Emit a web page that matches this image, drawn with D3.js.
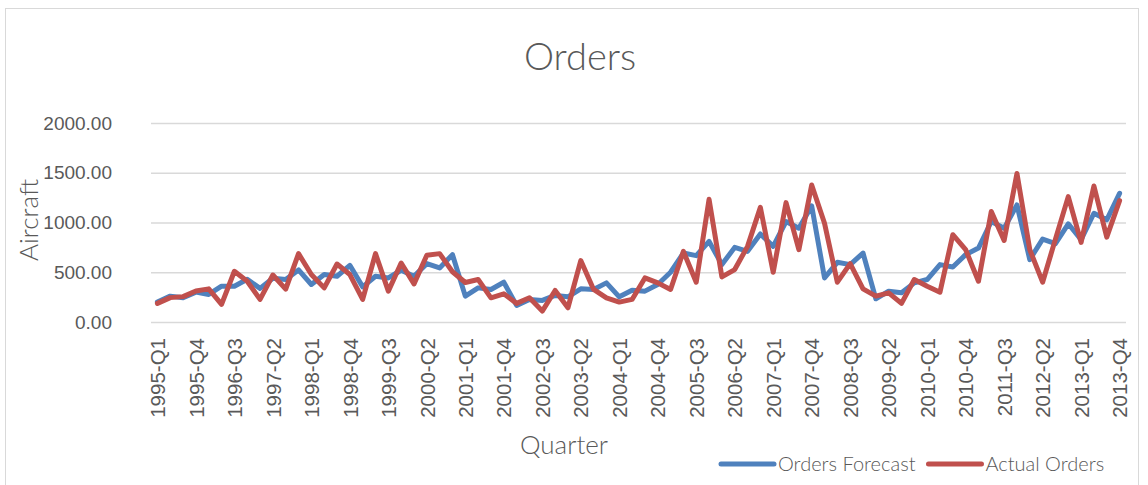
<!DOCTYPE html>
<html>
<head>
<meta charset="utf-8">
<script src="https://cdn.jsdelivr.net/npm/d3@7"></script>
<style>
  body { margin: 0; background: #fff; }
  svg { display: block; font-family: Lato, "Noto Sans", sans-serif; }
</style>
</head>
<body>
<div id="chart"></div>
<script>
// quarters 1995-Q1 .. 2013-Q4
const years = [1995, 1996, 1997, 1998, 1999, 2000, 2001, 2002, 2003, 2004,
               2005, 2006, 2007, 2008, 2009, 2010, 2011, 2012, 2013];
const quarterNames = ["Q1", "Q2", "Q3", "Q4"];
const quarters = years.flatMap(y => quarterNames.map(q => `${y}-${q}`));

const ordersForecast = [
  200, 260, 243, 300, 277, 360, 360, 430, 338, 440,
  427, 523, 377, 477, 460, 570, 353, 460, 443, 520,
  460, 587, 543, 677, 260, 343, 327, 400, 167, 227,
  217, 267, 253, 333, 327, 393, 253, 320, 310, 377,
  500, 693, 667, 810, 577, 750, 710, 885, 760, 1010,
  943, 1167, 443, 600, 577, 693, 233, 310, 293, 393,
  427, 577, 553, 677, 743, 1010, 943, 1177, 627, 833,
  787, 987, 827, 1093, 1027, 1293
];
const actualOrders = [
  187, 245, 255, 312, 333, 177, 510, 410, 227, 472,
  330, 687, 477, 343, 583, 477, 227, 687, 310, 593,
  383, 670, 687, 505, 397, 427, 243, 283, 187, 243,
  110, 317, 143, 617, 327, 243, 200, 227, 443, 393,
  327, 710, 400, 1233, 453, 527, 760, 1152, 500, 1200,
  727, 1377, 993, 400, 587, 333, 260, 293, 187, 427,
  360, 300, 877, 727, 410, 1110, 820, 1493, 727, 400,
  833, 1260, 800, 1367, 853, 1220
];
const yTicks = [0, 500, 1000, 1500, 2000];

const series = [
  { name: "Orders Forecast", values: ordersForecast, color: "#4f81bd" },
  { name: "Actual Orders", values: actualOrders, color: "#c0504d" }
];

const width = 1148, height = 485;
const plot = { left: 151, right: 1126, top: 123, bottom: 322 };
const textColor = "#595959";

let svg = d3.select("#chart")
    .append("svg")
    .attr("width", width)
    .attr("height", height);

// chart border
svg.append("rect")
    .attr("x", 5.5).attr("y", 8.5)
    .attr("width", 1133).attr("height", 520)
    .attr("fill", "none")
    .attr("stroke", "#d9d9d9");

let x = d3.scalePoint()
    .domain(quarters)
    .range([plot.left, plot.right])
    .padding(0.5);

let y = d3.scaleLinear()
    .domain([0, 2000])
    .range([plot.bottom, plot.top]);

// gridlines + y labels
let yAxis = d3.axisLeft(y)
    .tickValues(yTicks)
    .tickSize(-(plot.right - plot.left))
    .tickPadding(39)
    .tickFormat(d3.format(".2f"));

let yg = svg.append("g")
    .attr("transform", `translate(${plot.left}, 0)`)
    .call(yAxis);
yg.select(".domain").remove();
yg.selectAll("line").attr("stroke", "#d9d9d9").attr("stroke-width", 1.5);
yg.selectAll("text")
    .attr("fill", textColor)
    .style("font-size", "19px")
    .style("font-weight", 300);

// x labels every third quarter
let xAxis = d3.axisBottom(x)
    .tickValues(quarters.filter((d, i) => i % 3 === 0))
    .tickSize(0)
    .tickPadding(0);

let xg = svg.append("g")
    .attr("transform", `translate(0, ${plot.bottom})`)
    .call(xAxis);
xg.select(".domain").remove();
xg.selectAll("text")
    .attr("fill", textColor)
    .style("font-size", "20.5px")
    .style("font-weight", 300)
    .attr("text-anchor", "end")
    .attr("dy", "0.35em")
    .attr("y", 0)
    .attr("transform", "translate(0, 16) rotate(-90)");

// lines
let line = d3.line()
    .x((d, i) => x(quarters[i]))
    .y(d => y(d));

series.forEach(s => {
    svg.append("path")
        .datum(s.values)
        .attr("d", line)
        .attr("fill", "none")
        .attr("stroke", s.color)
        .attr("stroke-width", 5)
        .attr("stroke-linejoin", "round")
        .attr("stroke-linecap", "round");
});

// titles
svg.append("text")
    .attr("x", 580).attr("y", 70)
    .attr("text-anchor", "middle")
    .attr("fill", textColor)
    .style("font-size", "38px")
    .style("font-weight", 300)
    .text("Orders");

svg.append("text")
    .attr("transform", "translate(38, 220) rotate(-90)")
    .attr("text-anchor", "middle")
    .attr("fill", textColor)
    .style("font-size", "26px")
    .style("font-weight", 300)
    .text("Aircraft");

svg.append("text")
    .attr("x", 564).attr("y", 454)
    .attr("text-anchor", "middle")
    .attr("fill", textColor)
    .style("font-size", "26px")
    .style("font-weight", 300)
    .text("Quarter");

// legend
let legend = svg.append("g");
let lx = 721;
series.forEach(s => {
    legend.append("line")
        .attr("x1", lx).attr("x2", lx + 53)
        .attr("y1", 464).attr("y2", 464)
        .attr("stroke", s.color)
        .attr("stroke-width", 5)
        .attr("stroke-linecap", "round");
    let t = legend.append("text")
        .attr("x", lx + 57).attr("y", 471)
        .attr("fill", textColor)
        .style("font-size", "20px")
        .style("font-weight", 300)
        .text(s.name);
    lx += 57 + t.node().getComputedTextLength() + 13;
});
</script>
</body>
</html>
